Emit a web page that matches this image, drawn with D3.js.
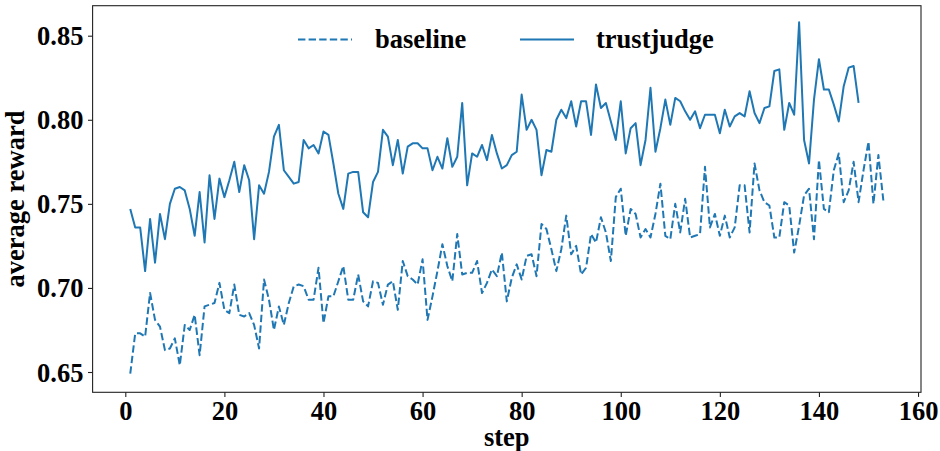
<!DOCTYPE html>
<html>
<head>
<meta charset="utf-8">
<script src="https://cdn.jsdelivr.net/npm/d3@7"></script>
<style>
html,body{margin:0;padding:0;background:#fff;}
svg{display:block;}
text{font-family:"Liberation Serif","Times New Roman",serif;font-weight:bold;}
</style>
</head>
<body>
<svg id="chart" width="940" height="451"></svg>
<script>
const baseline = [0.649,0.673,0.673,0.671,0.697,0.681,0.677,0.663,0.664,0.670,
0.654,0.678,0.675,0.684,0.660,0.689,0.690,0.691,0.703,0.687,
0.685,0.702,0.684,0.683,0.685,0.678,0.664,0.705,0.693,0.675,
0.689,0.678,0.691,0.701,0.702,0.701,0.693,0.693,0.712,0.679,
0.695,0.695,0.704,0.713,0.693,0.693,0.708,0.692,0.689,0.704,
0.703,0.690,0.702,0.704,0.687,0.716,0.707,0.705,0.702,0.717,
0.681,0.695,0.710,0.726,0.713,0.704,0.732,0.708,0.709,0.709,
0.716,0.697,0.703,0.711,0.707,0.721,0.692,0.706,0.714,0.705,
0.719,0.720,0.707,0.738,0.735,0.723,0.710,0.723,0.743,0.720,
0.725,0.708,0.712,0.732,0.727,0.742,0.733,0.716,0.754,0.759,
0.731,0.747,0.744,0.730,0.735,0.730,0.744,0.762,0.731,0.729,
0.750,0.733,0.753,0.730,0.731,0.732,0.772,0.736,0.744,0.731,
0.743,0.730,0.736,0.761,0.761,0.733,0.774,0.758,0.751,0.749,
0.730,0.730,0.751,0.749,0.721,0.737,0.755,0.759,0.729,0.776,
0.747,0.745,0.770,0.780,0.751,0.758,0.775,0.751,0.770,0.787,
0.750,0.779,0.752];

const trustjudge = [0.747,0.736,0.736,0.710,0.741,0.715,0.744,0.729,0.750,0.759,
0.760,0.758,0.747,0.731,0.757,0.727,0.767,0.741,0.765,0.754,
0.764,0.775,0.757,0.773,0.764,0.729,0.761,0.756,0.769,0.790,
0.797,0.770,0.766,0.762,0.763,0.788,0.783,0.785,0.780,0.793,
0.791,0.774,0.756,0.747,0.768,0.769,0.769,0.745,0.742,0.763,
0.769,0.794,0.790,0.773,0.788,0.768,0.784,0.786,0.786,0.783,
0.783,0.770,0.778,0.771,0.789,0.772,0.778,0.810,0.761,0.780,
0.778,0.785,0.776,0.791,0.780,0.771,0.773,0.779,0.781,0.815,
0.794,0.800,0.794,0.767,0.782,0.781,0.800,0.806,0.801,0.811,
0.796,0.811,0.811,0.791,0.821,0.807,0.810,0.799,0.788,0.811,
0.780,0.795,0.798,0.773,0.788,0.819,0.781,0.795,0.812,0.797,
0.813,0.811,0.805,0.800,0.805,0.795,0.803,0.803,0.803,0.792,
0.806,0.796,0.802,0.804,0.802,0.817,0.804,0.798,0.807,0.808,
0.829,0.830,0.794,0.810,0.803,0.858,0.788,0.774,0.812,0.836,
0.818,0.818,0.809,0.799,0.820,0.831,0.832,0.810];

const xTicks = [0,20,40,60,80,100,120,140,160];
const yTicks = [0.65,0.70,0.75,0.80,0.85];
const seriesNames = ["baseline","trustjudge"];
const xLabel = "step";
const yLabel = "average reward";

const color = "#1f77b4";
const fontSize = 26.5;
const pL = 92.6, pR = 921, pT = 5.7, pB = 392.3;

const svg = d3.select("#chart");
const x = d3.scaleLinear().domain([-6.6, 160.6]).range([pL, pR]);
const y = d3.scaleLinear().domain([0.63793, 0.86784]).range([pB, pT]);

// lines
const line = d3.line().x(d => x(d[0])).y(d => y(d[1]));
const bData = baseline.map((v,i) => [i+1, v]);
const tData = trustjudge.map((v,i) => [i+1, v]);

svg.append("path").datum(bData).attr("d", line)
  .attr("fill","none").attr("stroke",color).attr("stroke-width",2)
  .attr("stroke-dasharray","7.4,3.2").attr("stroke-linejoin","round");
svg.append("path").datum(tData).attr("d", line)
  .attr("fill","none").attr("stroke",color).attr("stroke-width",2)
  .attr("stroke-linejoin","round");

// frame
svg.append("rect").attr("x",pL).attr("y",pT).attr("width",pR-pL).attr("height",pB-pT)
  .attr("fill","none").attr("stroke","#222").attr("stroke-width",1.1);

// axes
const xAxis = d3.axisBottom(x).tickValues(xTicks).tickSize(4.6).tickPadding(4.6).tickFormat(d3.format("d"));
const gx = svg.append("g").attr("transform",`translate(0,${pB})`).call(xAxis);
gx.select(".domain").remove();
gx.selectAll(".tick line").attr("stroke","#222").attr("stroke-width",1.1);
gx.selectAll(".tick text").attr("font-size",fontSize).attr("fill","#000")
  .attr("font-family",'"Liberation Serif","Times New Roman",serif').attr("font-weight","bold");

const yAxis = d3.axisLeft(y).tickValues(yTicks).tickSize(4.6).tickPadding(4.6).tickFormat(d3.format(".2f"));
const gy = svg.append("g").attr("transform",`translate(${pL},0)`).call(yAxis);
gy.select(".domain").remove();
gy.selectAll(".tick line").attr("stroke","#222").attr("stroke-width",1.1);
gy.selectAll(".tick text").attr("font-size",fontSize).attr("fill","#000")
  .attr("font-family",'"Liberation Serif","Times New Roman",serif').attr("font-weight","bold")
  .attr("dy","0.34em");

// axis labels
svg.append("text").attr("x",(pL+pR)/2).attr("y",446).attr("text-anchor","middle")
  .attr("font-size",fontSize).text(xLabel);
svg.append("text").attr("transform",`translate(24,${(pT+pB)/2}) rotate(-90)`)
  .attr("text-anchor","middle").attr("font-size",fontSize).text(yLabel);

// legend
const legend = [
  {name: seriesNames[0], x1: 298, dash: "7.4,3.2", tx: 375},
  {name: seriesNames[1], x1: 520, dash: null, tx: 596}
];
legend.forEach(l => {
  const ln = svg.append("line").attr("x1",l.x1).attr("x2",l.x1+54).attr("y1",39.5).attr("y2",39.5)
    .attr("stroke",color).attr("stroke-width",2);
  if (l.dash) ln.attr("stroke-dasharray",l.dash);
  svg.append("text").attr("x",l.tx).attr("y",48).attr("font-size",fontSize).text(l.name);
});
</script>
</body>
</html>
